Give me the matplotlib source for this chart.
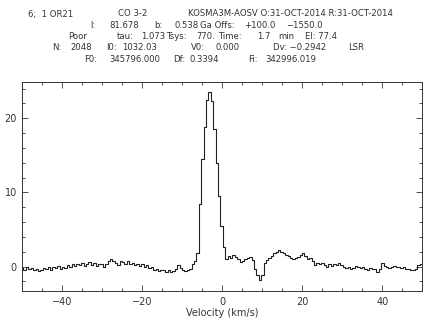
import numpy as np
import matplotlib
matplotlib.use("Agg")
import matplotlib.pyplot as plt
from matplotlib.ticker import MultipleLocator

## CO 3-2 spectrum, channel spacing 0.6 km/s from -50
v_start = -50.0
v_step = 0.6
tmb = [
    -0.2, -0.4, -0.1, -0.3, -0.2, -0.5, -0.3, -0.6, -0.4, -0.2,
    -0.3, -0.1, -0.4, 0.0, -0.2, 0.1, -0.3, 0.0, -0.2, 0.2,
    -0.1, 0.3, 0.1, 0.4, 0.2, 0.5, 0.1, 0.4, 0.6, 0.2,
    0.5, 0.1, 0.4, 0.3, 0.0, 0.3, 0.7, 1.0, 0.8, 0.5,
    0.2, 0.8, 0.6, 0.4, 0.7, 0.3, 0.5, 0.2, 0.4, 0.1,
    0.3, 0.0, 0.2, -0.2, 0.0, -0.4, -0.3, -0.6, -0.4, -0.5,
    -0.7, -0.5, -0.8, -0.6, -0.3, 0.2, -0.2, -0.5, -0.6, -0.4,
    -0.3, 0.3, 0.8, 1.8, 8.5, 14.5, 18.8, 22.5, 23.6, 22.3,
    18.5, 14.0, 9.5, 5.5, 2.7, 1.0, 1.4, 1.1, 1.6, 1.3,
    1.0, 0.6, 0.8, 1.0, 1.2, 1.35, 0.9, -0.3, -1.2, -1.8,
    -1.2, 0.5, 0.9, 1.1, 1.4, 1.8, 1.9, 2.25, 2.0, 1.8,
    1.5, 1.4, 1.2, 1.0, 1.1, 1.3, 1.6, 1.8, 1.4, 1.05,
    1.2, 0.7, 0.2, 0.5, 0.3, 0.45, 0.2, 0.0, 0.3, 0.1,
    0.35, 0.2, 0.5, 0.2, -0.1, -0.2, 0.0, -0.35, -0.2, 0.1,
    0.0, -0.2, -0.1, -0.3, -0.4, -0.2, -0.3, -0.35, -0.8, -0.3,
    0.45, 0.1, -0.1, -0.2, 0.0, 0.1, -0.1, 0.0, -0.2, -0.1,
    -0.35, -0.3, -0.4, -0.5, -0.3, 0.2, 0.35,
]
vel = v_start + v_step * np.arange(len(tmb))

## header lines: (x pixel, line number, text)
header = [
    (28, 0, "6;  1 OR21"), (118, 0, "CO 3-2"),
    (188, 0, "KOSMA3M-AOSV O:31-OCT-2014 R:31-OCT-2014"),
    (90, 1, "l:"), (109, 1, "81.678"), (154, 1, "b:"), (174, 1, "0.538"),
    (200, 1, "Ga Offs:"), (244, 1, "+100.0"), (286, 1, "\u22121550.0"),
    (68, 2, "Poor"), (117, 2, "tau:"), (141, 2, "1.073"), (166, 2, "Tsys:"),
    (196, 2, "770."), (218, 2, "Time:"), (257, 2, "1.7"), (278, 2, "min"),
    (305, 2, "El: 77.4"),
    (52, 3, "N:"), (70, 3, "2048"), (106, 3, "I0:"), (122, 3, "1032.03"),
    (191, 3, "V0:"), (215, 3, "0.000"), (273, 3, "Dv: \u22120.2942"), (348, 3, "LSR"),
    (84, 4, "F0:"), (109, 4, "345796.000"), (173, 4, "Df:"), (189, 4, "0.3394"),
    (248, 4, "Fi:"), (265, 4, "342996.019"),
]
line_y = [14, 25.5, 36.5, 47.8, 59.3]

W, H = 436, 327
fig = plt.figure(figsize=(W / 100, H / 100), dpi=100)
ax = fig.add_axes([22.3 / W, 1 - 291 / H, 400 / W, 209 / H])

ax.plot(vel, tmb, drawstyle="steps-mid", color="#222222", lw=0.8)
ax.set_xlim(-50, 50)
ax.set_ylim(-3.3, 24.9)
ax.xaxis.set_major_locator(MultipleLocator(20))
ax.xaxis.set_minor_locator(MultipleLocator(5))
ax.yaxis.set_major_locator(MultipleLocator(10))
ax.yaxis.set_minor_locator(MultipleLocator(2))
ax.tick_params(which="both", direction="in", top=True, right=True,
               labelsize=7, colors="#333333", width=0.6)
ax.tick_params(which="major", length=4, pad=4)
ax.tick_params(which="minor", length=2)
for s in ax.spines.values():
    s.set_linewidth(0.7)
    s.set_color("#333333")
ax.set_xlabel("Velocity (km/s)", fontsize=7, color="#333333", labelpad=1)

for x, row, txt in header:
    fig.text(x / W, 1 - line_y[row] / H, txt, fontsize=6.1, color="#333333",
             ha="left", va="center")

fig.savefig("out.png", dpi=100)
